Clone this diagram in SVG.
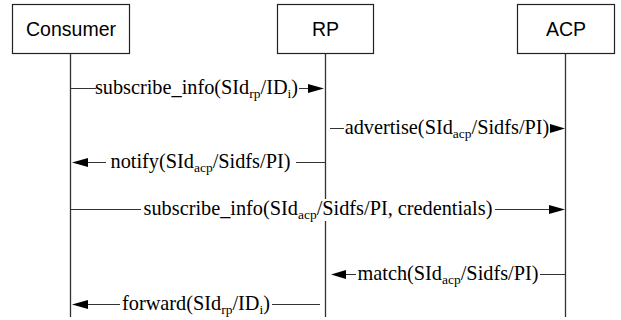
<svg xmlns="http://www.w3.org/2000/svg" width="621" height="320" viewBox="0 0 621 320">
<defs>
<style>
.box{fill:#fff;stroke:#222;stroke-width:1.2}
.life{stroke:#333;stroke-width:1.3;fill:none}
.msg{stroke:#333;stroke-width:1.2;fill:none}
.head{fill:#000}
.nt{font-family:"Liberation Sans",Arial,sans-serif;font-size:19.5px;fill:#000;text-anchor:middle}
.mt{font-family:"Liberation Serif","Times New Roman",serif;font-size:20.3px;fill:#000;text-anchor:middle}
.sub{font-size:13.5px}
.bg{fill:#fff}
</style>
</defs>
<rect width="621" height="320" fill="#fff"/>
<g id="Consumer">
<rect class="box" x="12.5" y="4.5" width="117" height="49"/>
<text class="nt" x="71" y="36">Consumer</text>
<line class="life" x1="70.5" y1="53.5" x2="70.5" y2="317"/>
</g>
<g id="RP">
<rect class="box" x="277.5" y="4.5" width="96" height="49"/>
<text class="nt" x="325.5" y="36">RP</text>
<line class="life" x1="325.5" y1="53.5" x2="325.5" y2="317"/>
</g>
<g id="ACP">
<rect class="box" x="517.5" y="4.5" width="97" height="49"/>
<text class="nt" x="566" y="36">ACP</text>
<line class="life" x1="565.5" y1="53.5" x2="565.5" y2="317"/>
</g>
<g id="connectors">
<g id="m1">
<line class="msg" x1="70.5" y1="88.5" x2="312" y2="88.5"/>
<polygon class="head" points="324,88.5 308,84 308,93"/>
<rect class="bg" x="96" y="78" width="203" height="22"/>
<text class="mt" x="196.5" y="94">subscribe_info(SId<tspan class="sub" dy="4">rp</tspan><tspan dy="-4">/ID</tspan><tspan class="sub" dy="4">i</tspan><tspan dy="-4">)</tspan></text>
</g>
<g id="m2">
<line class="msg" x1="330" y1="128.5" x2="553" y2="128.5"/>
<polygon class="head" points="565,128.5 550,124 550,133"/>
<rect class="bg" x="344" y="118" width="206" height="22"/>
<text class="mt" x="447" y="134">advertise(SId<tspan class="sub" dy="4">acp</tspan><tspan dy="-4">/Sidfs/PI)</tspan></text>
</g>
<g id="m3">
<line class="msg" x1="325" y1="162.5" x2="84" y2="162.5"/>
<polygon class="head" points="72,162.5 88,158 88,167"/>
<rect class="bg" x="106" y="152" width="190" height="22"/>
<text class="mt" x="200.5" y="168">notify(SId<tspan class="sub" dy="4">acp</tspan><tspan dy="-4">/Sidfs/PI)</tspan></text>
</g>
<g id="m4">
<line class="msg" x1="70.5" y1="209.5" x2="553" y2="209.5"/>
<polygon class="head" points="565,209.5 549,205 549,214"/>
<rect class="bg" x="141" y="199" width="354" height="22"/>
<text class="mt" x="318" y="215">subscribe_info(SId<tspan class="sub" dy="4">acp</tspan><tspan dy="-4">/Sidfs/PI, credentials)</tspan></text>
</g>
<g id="m5">
<line class="msg" x1="565" y1="274.5" x2="343" y2="274.5"/>
<polygon class="head" points="331,274.5 346,270 346,279"/>
<rect class="bg" x="356" y="264" width="184" height="22"/>
<text class="mt" x="448" y="280">match(SId<tspan class="sub" dy="4">acp</tspan><tspan dy="-4">/Sidfs/PI)</tspan></text>
</g>
<g id="m6">
<line class="msg" x1="320" y1="304.5" x2="84" y2="304.5"/>
<polygon class="head" points="72,304.5 88,300 88,309"/>
<rect class="bg" x="120" y="294" width="152" height="22"/>
<text class="mt" x="196" y="310">forward(SId<tspan class="sub" dy="4">rp</tspan><tspan dy="-4">/ID</tspan><tspan class="sub" dy="4">i</tspan><tspan dy="-4">)</tspan></text>
</g>
</g>
</svg>
